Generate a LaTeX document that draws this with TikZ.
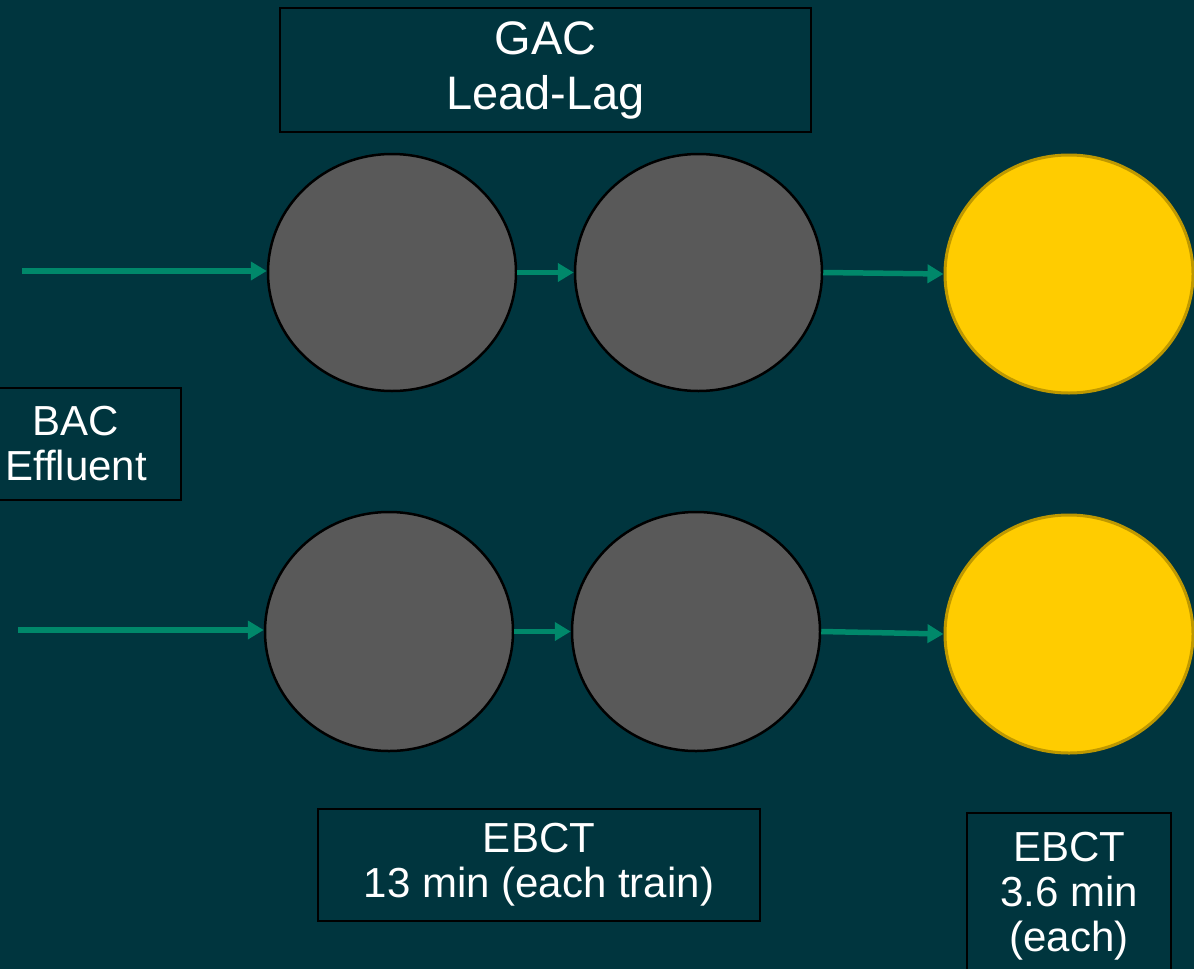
\documentclass[tikz,border=0pt]{standalone}
\usepackage{fontspec}
\setmainfont{Liberation Sans}
\usetikzlibrary{arrows.meta,shapes.geometric}
\definecolor{bg}{RGB}{0,53,62}
\definecolor{disc}{RGB}{89,89,89}
\definecolor{gold}{RGB}{255,204,0}
\definecolor{goldline}{RGB}{190,152,0}
\definecolor{flow}{RGB}{0,136,106}
\tikzset{
  box/.style={draw=black, line width=1.5pt, fill=bg, text=white, align=center, inner sep=0pt},
  bigtxt/.style={font=\fontsize{47}{55}\selectfont},
  smalltxt/.style={font=\fontsize{42}{45}\selectfont},
  ellipse shape/.style={shape=ellipse, inner sep=0pt},
  gacdisc/.style={ellipse shape, fill=disc, draw=black, line width=2.5pt},
  ydisc/.style={ellipse shape, fill=gold, draw=goldline, line width=3pt},
  flowarrow/.style={draw=flow, line width=5.5pt, -{Triangle[length=16pt,width=18pt]}}
}
\begin{document}
\begin{tikzpicture}[x=1pt,y=-1pt]
\useasboundingbox (0,0) rectangle (1194,969);
\fill[bg] (0,0) rectangle (1194,969);
% boxes
\node[box, bigtxt, minimum width=531, minimum height=124] (gac) at (545.5,70) {GAC\\Lead-Lag};
\node[box, smalltxt, minimum width=210, minimum height=112] (bac) at (76,444) {BAC\\Effluent};
\node[box, smalltxt, minimum width=442, minimum height=112] (ebctA) at (539,865) {EBCT\\13 min (each train)};
\node[box, smalltxt, minimum width=204, minimum height=166] (ebctB) at (1069,896) {EBCT\\3.6 min\\(each)};
% discs
\node[gacdisc, minimum width=248, minimum height=237] (t1) at (392,272.5) {};
\node[gacdisc, minimum width=247, minimum height=237] (t2) at (698.5,272.5) {};
\node[ydisc, minimum width=248, minimum height=238] (t3) at (1069,274) {};
\node[gacdisc, minimum width=248, minimum height=239] (b1) at (389,631.5) {};
\node[gacdisc, minimum width=248, minimum height=239] (b2) at (696,631.5) {};
\node[ydisc, minimum width=248, minimum height=238] (b3) at (1069,634) {};
% flow arrows
\coordinate (ta) at (22,271);
\coordinate (ba) at (18,630);
\draw[flowarrow] (ta) -- (t1.west |- ta);
\draw[flowarrow] (t1.east) -- (t2.west);
\draw[flowarrow] (t2.east) -- (t3.west);
\draw[flowarrow] (ba) -- (b1.west |- ba);
\draw[flowarrow] (b1.east) -- (b2.west);
\draw[flowarrow] (b2.east) -- (b3.west);
\end{tikzpicture}
\end{document}
